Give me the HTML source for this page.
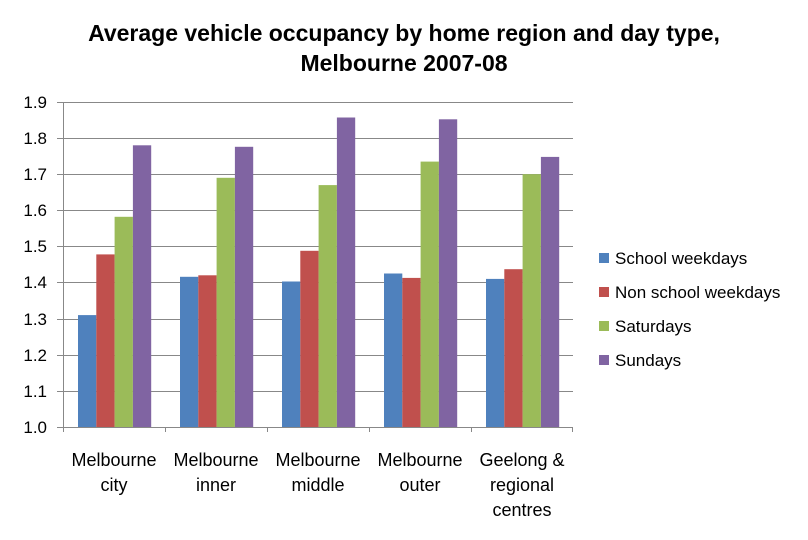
<!DOCTYPE html>
<html><head><meta charset="utf-8"><style>
html,body{margin:0;padding:0;background:#fff;}
svg{display:block;font-family:"Liberation Sans",sans-serif;}
</style></head><body>
<svg width="808" height="540" viewBox="0 0 808 540" xmlns="http://www.w3.org/2000/svg">
<rect width="808" height="540" fill="#fff"/>
<text x="404" y="41" text-anchor="middle" font-size="23" font-weight="bold" fill="#000">Average vehicle occupancy by home region and day type,</text>
<text x="404" y="71" text-anchor="middle" font-size="23" font-weight="bold" fill="#000">Melbourne 2007-08</text>
<g stroke="#888" stroke-width="1">
<line x1="57" y1="102.5" x2="573" y2="102.5"/>
<line x1="57" y1="138.5" x2="573" y2="138.5"/>
<line x1="57" y1="174.5" x2="573" y2="174.5"/>
<line x1="57" y1="210.5" x2="573" y2="210.5"/>
<line x1="57" y1="246.5" x2="573" y2="246.5"/>
<line x1="57" y1="282.5" x2="573" y2="282.5"/>
<line x1="57" y1="319.5" x2="573" y2="319.5"/>
<line x1="57" y1="355.5" x2="573" y2="355.5"/>
<line x1="57" y1="391.5" x2="573" y2="391.5"/>
</g>
<g font-size="17" fill="#000" text-anchor="end">
<text x="47" y="108">1.9</text><text x="47" y="144">1.8</text><text x="47" y="180">1.7</text>
<text x="47" y="216">1.6</text><text x="47" y="252">1.5</text><text x="47" y="288">1.4</text>
<text x="47" y="325">1.3</text><text x="47" y="361">1.2</text><text x="47" y="397">1.1</text>
<text x="47" y="433">1.0</text>
</g>
<g>
<rect x="78" y="315.1" width="18.3" height="111.9" fill="#4F81BD"/>
<rect x="96.3" y="254.4" width="18.3" height="172.6" fill="#C0504D"/>
<rect x="114.6" y="216.8" width="18.3" height="210.2" fill="#9BBB59"/>
<rect x="132.9" y="145.3" width="18.3" height="281.7" fill="#8064A2"/>
<rect x="180" y="276.8" width="18.3" height="150.2" fill="#4F81BD"/>
<rect x="198.3" y="275.3" width="18.3" height="151.7" fill="#C0504D"/>
<rect x="216.6" y="177.8" width="18.3" height="249.2" fill="#9BBB59"/>
<rect x="234.9" y="146.8" width="18.3" height="280.2" fill="#8064A2"/>
<rect x="282" y="281.5" width="18.3" height="145.5" fill="#4F81BD"/>
<rect x="300.3" y="250.8" width="18.3" height="176.2" fill="#C0504D"/>
<rect x="318.6" y="185.1" width="18.3" height="241.9" fill="#9BBB59"/>
<rect x="336.9" y="117.5" width="18.3" height="309.5" fill="#8064A2"/>
<rect x="384" y="273.5" width="18.3" height="153.5" fill="#4F81BD"/>
<rect x="402.3" y="277.9" width="18.3" height="149.1" fill="#C0504D"/>
<rect x="420.6" y="161.6" width="18.3" height="265.4" fill="#9BBB59"/>
<rect x="438.9" y="119.3" width="18.3" height="307.7" fill="#8064A2"/>
<rect x="486" y="278.9" width="18.3" height="148.1" fill="#4F81BD"/>
<rect x="504.3" y="269.2" width="18.3" height="157.8" fill="#C0504D"/>
<rect x="522.6" y="174.2" width="18.3" height="252.8" fill="#9BBB59"/>
<rect x="540.9" y="156.9" width="18.3" height="270.1" fill="#8064A2"/>
</g>
<g stroke="#888" stroke-width="1">
<line x1="63.5" y1="102" x2="63.5" y2="432"/>
<line x1="57" y1="427.5" x2="573" y2="427.5"/>
<line x1="165.5" y1="427" x2="165.5" y2="432"/>
<line x1="267.5" y1="427" x2="267.5" y2="432"/>
<line x1="369.5" y1="427" x2="369.5" y2="432"/>
<line x1="471.5" y1="427" x2="471.5" y2="432"/>
<line x1="572.5" y1="427" x2="572.5" y2="432"/>
</g>
<g font-size="18" fill="#000" text-anchor="middle">
<text x="114" y="466">Melbourne</text><text x="114" y="491">city</text>
<text x="216" y="466">Melbourne</text><text x="216" y="491">inner</text>
<text x="318" y="466">Melbourne</text><text x="318" y="491">middle</text>
<text x="420" y="466">Melbourne</text><text x="420" y="491">outer</text>
<text x="522" y="466">Geelong &amp;</text><text x="522" y="491">regional</text><text x="522" y="516">centres</text>
</g>
<g font-size="17" fill="#000">
<rect x="599" y="253" width="10" height="10" fill="#4F81BD"/><text x="615" y="264">School weekdays</text>
<rect x="599" y="287" width="10" height="10" fill="#C0504D"/><text x="615" y="298">Non school weekdays</text>
<rect x="599" y="321" width="10" height="10" fill="#9BBB59"/><text x="615" y="332">Saturdays</text>
<rect x="599" y="355" width="10" height="10" fill="#8064A2"/><text x="615" y="366">Sundays</text>
</g>
</svg>
</body></html>
